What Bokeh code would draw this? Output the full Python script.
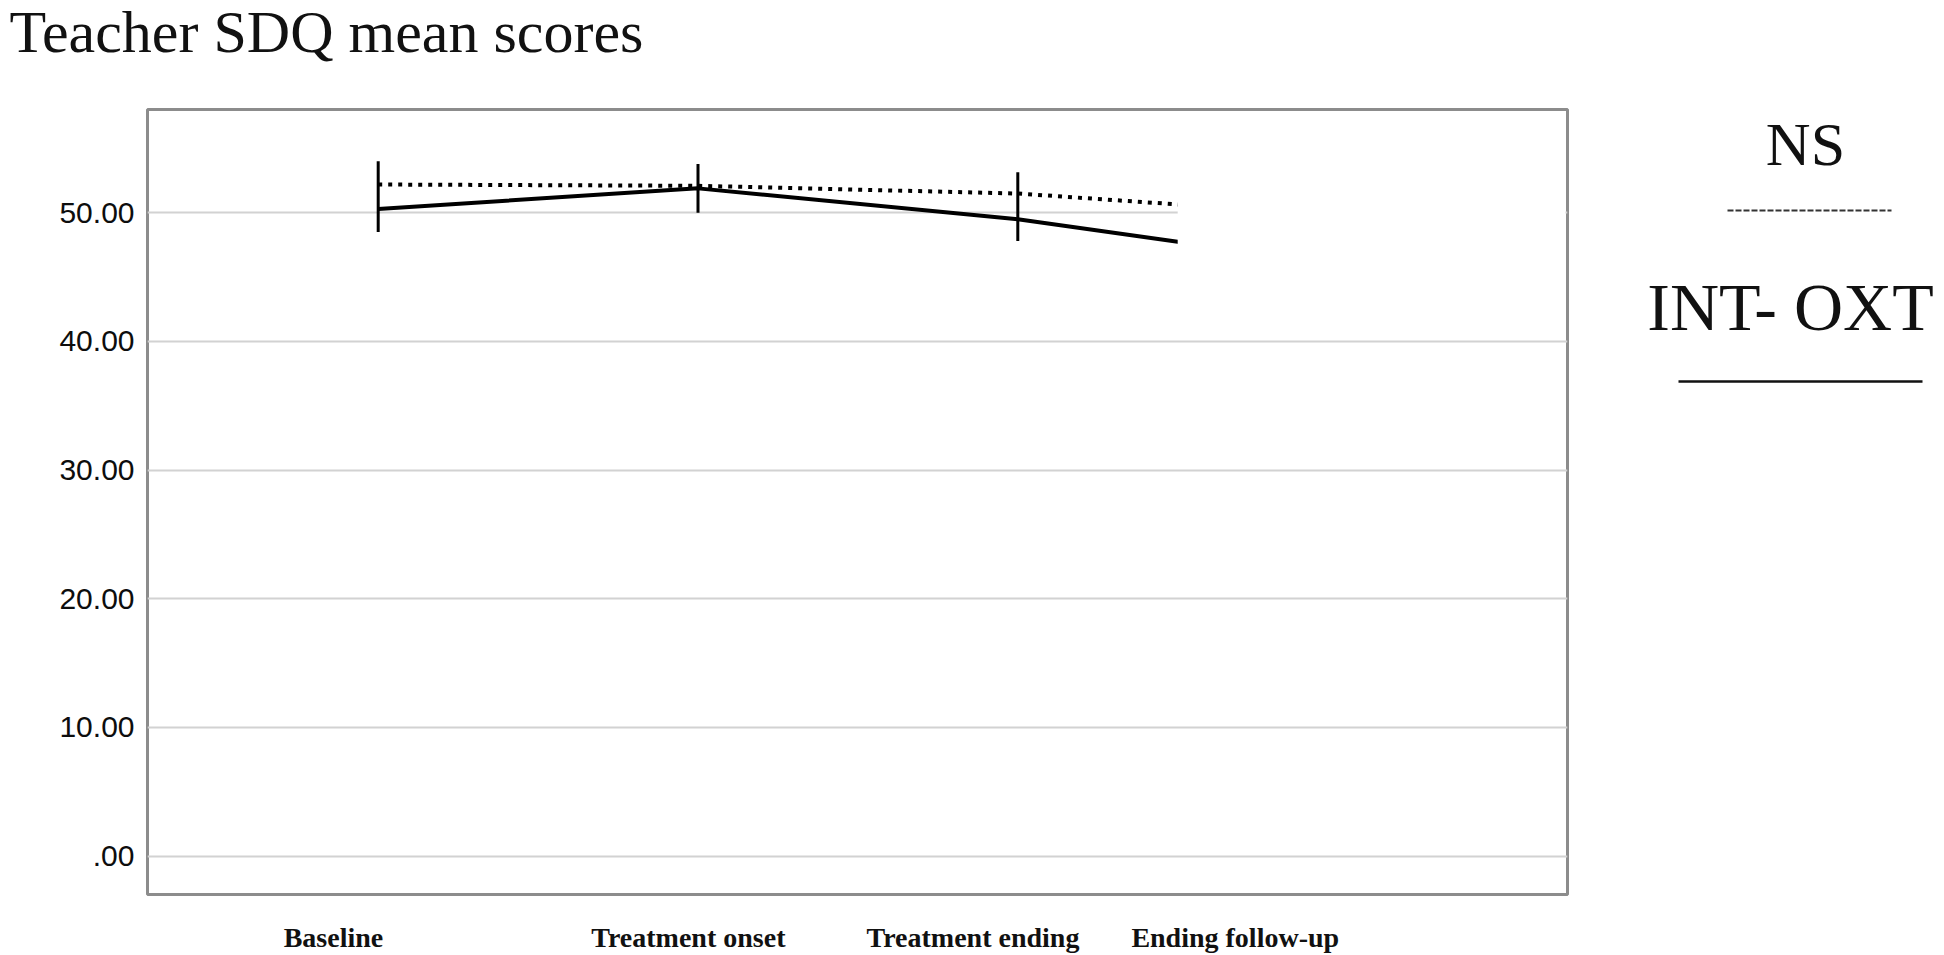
from bokeh.plotting import figure
from bokeh.layouts import row
from bokeh.models import Range1d, FixedTicker, BoxAnnotation, Label
from bokeh.core.properties import value
from bokeh.embed import file_html
from bokeh.resources import INLINE

# ---- data ----
categories = ["Baseline", "Treatment onset", "Treatment ending", "Ending follow-up"]
int_oxt = [50.3, 51.9, 49.5, 46.0]       # solid line (INT- OXT)
ns = [52.2, 52.1, 51.5, 49.8]            # dotted line (NS)
err_low = [48.5, 50.0, 47.8]             # error bars (first three time points)
err_high = [54.0, 53.8, 53.15]
y_ticks = [0, 10, 20, 30, 40, 50]
y_tick_labels = [".00", "10.00", "20.00", "30.00", "40.00", "50.00"]
label_pos = [-0.14, 0.97, 1.86, 2.68]    # where the category names sit under the axis
legend_names = ["NS", "INT- OXT"]

# ---- layout constants (page pixels) ----
MAIN_W, H = 1600, 955
LEG_W = 1944 - MAIN_W
L, R, T, B = 147, 1567, 109, 894
X_START, X_END = -0.7214, 3.7189
Y_START, Y_END = -2.985, 58.03


def dx(cx):
    return X_START + (cx - L) / (R - L) * (X_END - X_START)


def dy(cy):
    return Y_END - (cy - T) / (B - T) * (Y_END - Y_START)


p = figure(width=MAIN_W, height=H, output_backend="svg", toolbar_location=None,
           x_range=Range1d(X_START, X_END), y_range=Range1d(Y_START, Y_END),
           min_border_left=L, min_border_right=MAIN_W - R, min_border_top=T,
           min_border_bottom=H - B)
p.title.text = ""
p.background_fill_color = "white"
p.border_fill_color = "white"
p.outline_line_color = "#8c8c8c"
p.outline_line_width = 3

# title (label living in the panel above the frame, so it is not clipped)
p.add_layout(Label(x=dx(9), y=dy(31), text="Teacher SDQ mean scores",
                   text_font="Liberation Serif", text_font_size="60px",
                   text_color="#111111", text_align="left",
                   text_baseline="alphabetic"), "above")

# grid
p.xgrid.visible = False
p.ygrid.ticker = FixedTicker(ticks=y_ticks)
p.ygrid.grid_line_color = "#d2d2d2"
p.ygrid.grid_line_width = 2

# y axis
p.yaxis.ticker = FixedTicker(ticks=y_ticks)
p.yaxis.major_label_overrides = {t: s for t, s in zip(y_ticks, y_tick_labels)}
p.yaxis.axis_line_color = None
p.yaxis.major_tick_line_color = None
p.yaxis.minor_tick_line_color = None
p.yaxis.major_label_standoff = 7
p.yaxis.major_label_text_font = "Liberation Sans"
p.yaxis.major_label_text_font_size = "30px"
p.yaxis.major_label_text_color = "#0d0d0d"

# x axis (category names)
p.xaxis.ticker = FixedTicker(ticks=label_pos)
p.xaxis.major_label_overrides = {t: c for t, c in zip(label_pos, categories)}
p.xaxis.axis_line_color = None
p.xaxis.major_tick_line_color = None
p.xaxis.minor_tick_line_color = None
p.xaxis.major_label_standoff = 21
p.xaxis.major_label_text_font = "Liberation Serif"
p.xaxis.major_label_text_font_style = "bold"
p.xaxis.major_label_text_font_size = "28px"
p.xaxis.major_label_text_color = "#111111"

xs = list(range(len(categories)))

# series
p.line(xs, ns, line_color="black", line_width=4, line_dash="4 6")
p.line(xs, int_oxt, line_color="black", line_width=4)
p.segment(x0=xs[:len(err_low)], y0=err_low, x1=xs[:len(err_low)], y1=err_high,
          line_color="black", line_width=3)

# white patch pasted over the right part of the original chart
p.add_layout(BoxAnnotation(left=2.5, right=dx(1565), bottom=44.5, top=dy(T + 2),
                           fill_color="white", fill_alpha=1.0, line_alpha=0))

# ---- legend panel (page-pixel coordinates, y downward; frame aligned with T..B) ----
lg = figure(width=LEG_W, height=H, output_backend="svg", toolbar_location=None,
            x_range=Range1d(MAIN_W, 1944), y_range=Range1d(B, T),
            min_border=0, min_border_left=0, min_border_right=0,
            min_border_top=0, min_border_bottom=0)
lg.title.text = ""
lg.axis.visible = False
lg.grid.visible = False
lg.outline_line_color = None
lg.background_fill_color = "white"
lg.border_fill_color = "white"

lg.text(x=[1805], y=[143], text=legend_names[:1],
        text_font=value("Liberation Serif"), text_font_size=value("62px"),
        text_color="#111111", text_align="center", text_baseline="alphabetic")
lg.text(x=[1790], y=[306], text=legend_names[1:],
        text_font=value("Liberation Serif"), text_font_size=value("68px"),
        text_color="#111111", text_align="center", text_baseline="alphabetic")
lg.line([1727, 1891], [210, 210], line_color="#333333", line_width=2,
        line_dash="6 2")
lg.line([1678, 1922], [381, 381], line_color="#111111", line_width=2.5)

open("out.html", "w").write(file_html(row(p, lg), INLINE))
